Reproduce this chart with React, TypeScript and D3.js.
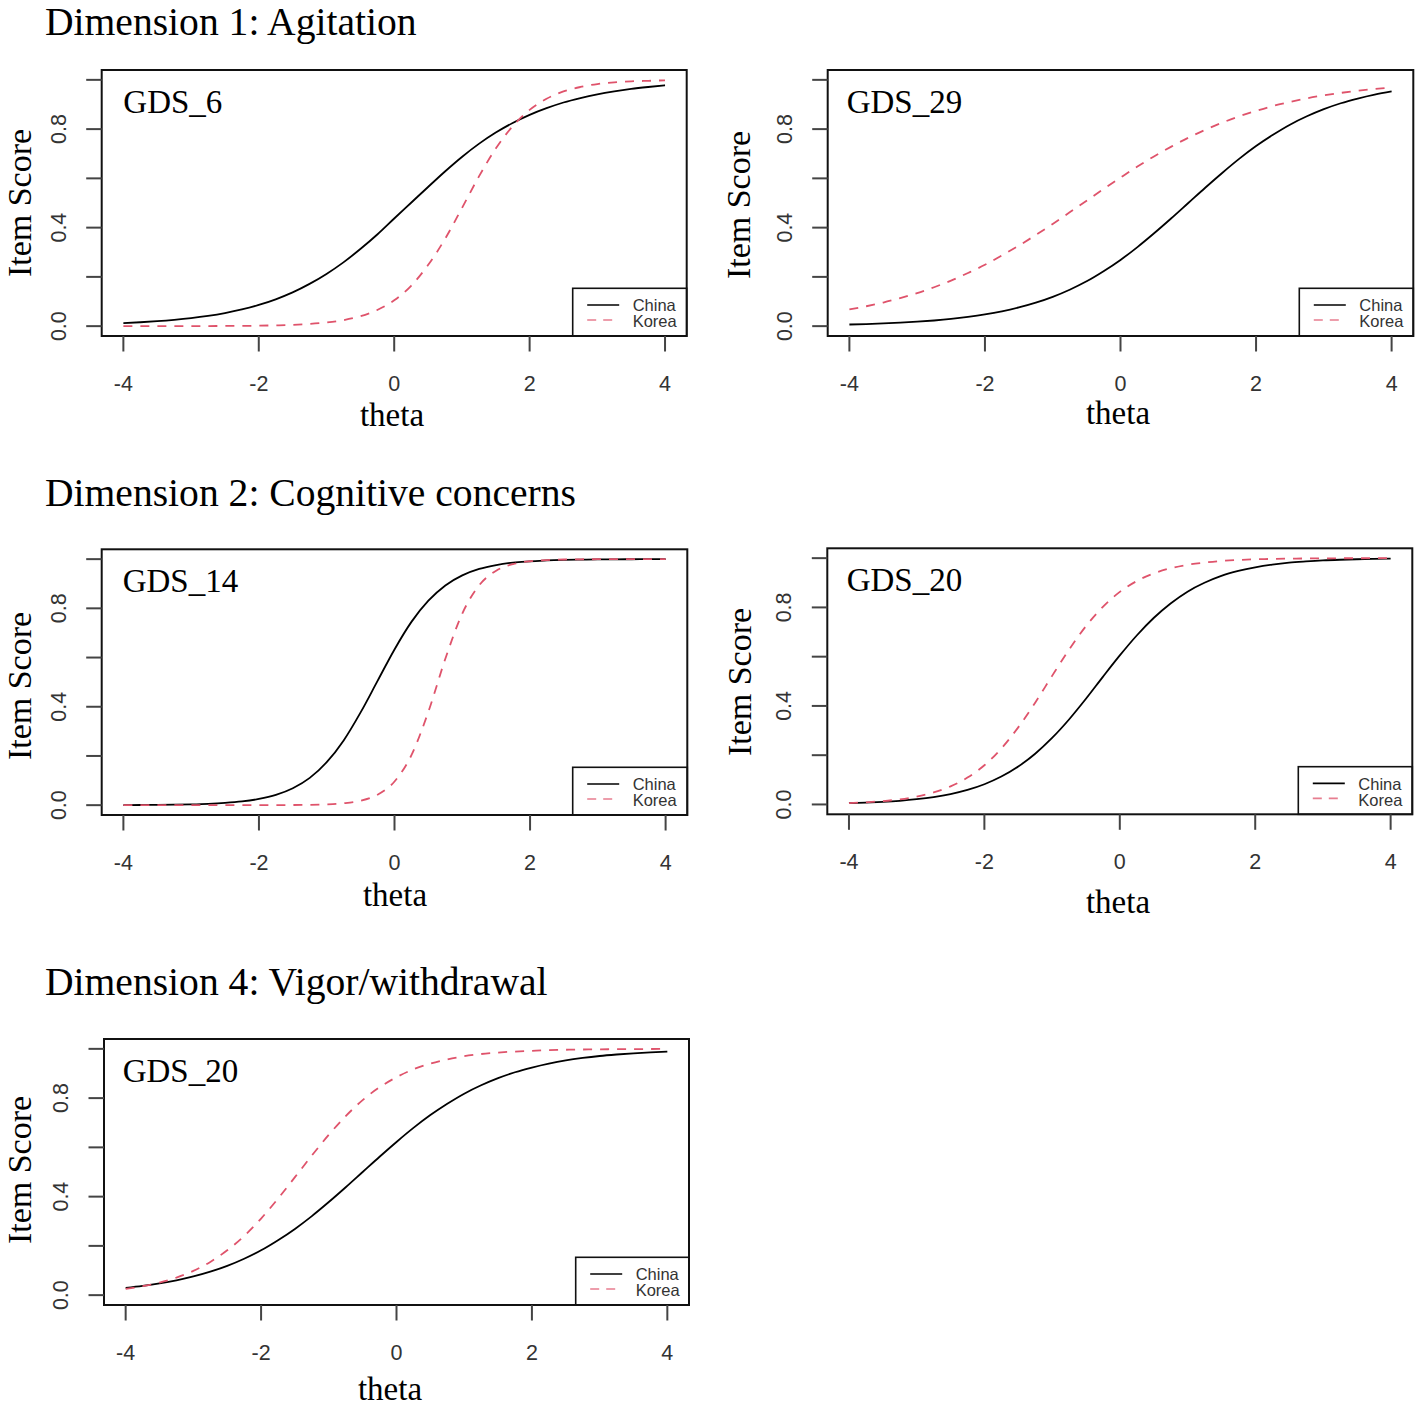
import React from 'react';
import * as d3 from 'd3';

// ---- data ----
const THETA = [-4, -3.75, -3.5, -3.25, -3, -2.75, -2.5, -2.25, -2, -1.75, -1.5, -1.25, -1, -0.75, -0.5, -0.25, 0,
  0.25, 0.5, 0.75, 1, 1.25, 1.5, 1.75, 2, 2.25, 2.5, 2.75, 3, 3.25, 3.5, 3.75, 4];

const GDS6_CHINA = [0.0125, 0.0158, 0.0200, 0.0255, 0.0325, 0.0415, 0.0530, 0.0676, 0.086, 0.109, 0.137, 0.1715, 0.212,
  0.259, 0.313, 0.372, 0.437, 0.501, 0.565, 0.628, 0.687, 0.740, 0.786, 0.825, 0.858, 0.885, 0.908, 0.926, 0.941,
  0.953, 0.963, 0.971, 0.978];
const GDS6_KOREA = [0.0, 0.0001, 0.0001, 0.0001, 0.0002, 0.0004, 0.0007, 0.0011, 0.0019, 0.0032, 0.0053, 0.0088, 0.0148,
  0.0244, 0.040, 0.0654, 0.105, 0.164, 0.248, 0.354, 0.479, 0.607, 0.721, 0.812, 0.878, 0.923, 0.953, 0.971, 0.983,
  0.990, 0.994, 0.996, 0.998];

const GDS29_CHINA = [0.0067, 0.0086, 0.011, 0.0141, 0.018, 0.023, 0.0293, 0.0374, 0.0474, 0.060, 0.0759, 0.0953, 0.119,
  0.148, 0.182, 0.223, 0.269, 0.321, 0.378, 0.438, 0.5, 0.562, 0.622, 0.679, 0.731, 0.777, 0.818, 0.852, 0.881,
  0.905, 0.924, 0.940, 0.953];
const GDS29_KOREA = [0.0678, 0.0808, 0.096, 0.114, 0.134, 0.158, 0.185, 0.216, 0.249, 0.287, 0.327, 0.370, 0.415,
  0.462, 0.509, 0.557, 0.603, 0.648, 0.690, 0.729, 0.765, 0.797, 0.826, 0.852, 0.874, 0.894, 0.910, 0.925, 0.937,
  0.947, 0.956, 0.963, 0.969];

const GDS14_CHINA = [0.0004, 0.0007, 0.0011, 0.0019, 0.0032, 0.0053, 0.009, 0.0151, 0.0253, 0.0419, 0.0689, 0.111,
  0.1745, 0.263, 0.377, 0.505, 0.633, 0.745, 0.831, 0.893, 0.934, 0.960, 0.976, 0.986, 0.991, 0.995, 0.997, 0.998,
  0.999, 0.9993, 0.9996, 0.9998, 0.9999];
const GDS14_KOREA = [0.0, 0.0, 0.0, 0.0, 0.0, 0.0, 0.0, 0.0, 0.0001, 0.0002, 0.0006, 0.0013, 0.0032, 0.0077, 0.018,
  0.0425, 0.0962, 0.2034, 0.380, 0.595, 0.779, 0.894, 0.953, 0.980, 0.9915, 0.9964, 0.9985, 0.9994, 0.9997, 0.9999,
  1.0, 1.0, 1.0];

const GDS20A_CHINA = [0.0052, 0.0074, 0.0105, 0.0149, 0.0212, 0.0299, 0.0422, 0.059, 0.0821, 0.1132, 0.154, 0.206,
  0.270, 0.345, 0.429, 0.518, 0.605, 0.686, 0.757, 0.816, 0.864, 0.900, 0.928, 0.948, 0.963, 0.974, 0.982, 0.987,
  0.991, 0.9936, 0.9955, 0.9968, 0.9978];
const GDS20A_KOREA = [0.0057, 0.0088, 0.0136, 0.0208, 0.0319, 0.0486, 0.0733, 0.109, 0.159, 0.227, 0.313, 0.413,
  0.522, 0.628, 0.724, 0.802, 0.863, 0.907, 0.938, 0.959, 0.973, 0.982, 0.9886, 0.9926, 0.9952, 0.9969, 0.998,
  0.9987, 0.9992, 0.9995, 0.9996, 0.9998, 0.9998];

const GDS20B_CHINA = [0.0293, 0.0374, 0.0474, 0.060, 0.0759, 0.0953, 0.119, 0.148, 0.182, 0.223, 0.269, 0.321, 0.378,
  0.438, 0.5, 0.562, 0.622, 0.679, 0.731, 0.777, 0.818, 0.852, 0.881, 0.905, 0.924, 0.940, 0.953, 0.963, 0.971,
  0.977, 0.982, 0.986, 0.989];
const GDS20B_KOREA = [0.0257, 0.0363, 0.0509, 0.0711, 0.0984, 0.135, 0.182, 0.240, 0.311, 0.392, 0.479, 0.567, 0.651,
  0.727, 0.792, 0.844, 0.885, 0.917, 0.940, 0.957, 0.970, 0.979, 0.985, 0.989, 0.992, 0.9947, 0.9963, 0.9974,
  0.9982, 0.9987, 0.9991, 0.9994, 0.9996];

const SERIES_NAMES = ['China', 'Korea'];
const SERIES_COLORS = ['#000000', '#DF536B'];
const X_TICKS = [-4, -2, 0, 2, 4];
const Y_TICKS = [0, 0.2, 0.4, 0.6, 0.8, 1.0];
const Y_TICK_LABELS = ['0.0', '', '0.4', '', '0.8', ''];
const HEADINGS = ['Dimension 1: Agitation', 'Dimension 2: Cognitive concerns', 'Dimension 4: Vigor/withdrawal'];
const ITEM_LABELS = ['GDS_6', 'GDS_29', 'GDS_14', 'GDS_20', 'GDS_20'];
const X_TITLE = 'theta';
const Y_TITLE = 'Item Score';

// ---- layout ----
const HEADING_POS = [
  { x: 45, y: 35 },
  { x: 45, y: 506 },
  { x: 45, y: 995 },
];

const PANELS = [
  { label: 0, series: [GDS6_CHINA, GDS6_KOREA], l: 101.7, r: 686.7, t: 70, b: 336, legL: 572.7, legT: 288.3, labX: 123.3, xlabX: 392, xlabY: 426, ylabX: 31, ylabY: 203 },
  { label: 1, series: [GDS29_CHINA, GDS29_KOREA], l: 827.7, r: 1413.3, t: 70, b: 336, legL: 1299.3, legT: 288.3, labX: 846.7, xlabX: 1118, xlabY: 424, ylabX: 750, ylabY: 205 },
  { label: 2, series: [GDS14_CHINA, GDS14_KOREA], l: 101.7, r: 687.3, t: 549.3, b: 815, legL: 572.7, legT: 767.3, labX: 122.7, xlabX: 395, xlabY: 906, ylabX: 31, ylabY: 686 },
  { label: 3, series: [GDS20A_CHINA, GDS20A_KOREA], l: 827.3, r: 1412.3, t: 548.3, b: 814.3, legL: 1298.3, legT: 766.7, labX: 846.7, xlabX: 1118, xlabY: 913, ylabX: 750.5, ylabY: 682 },
  { label: 4, series: [GDS20B_CHINA, GDS20B_KOREA], l: 104, r: 689, t: 1039, b: 1305, legL: 575.7, legT: 1257.3, labX: 122.7, xlabX: 390, xlabY: 1399.5, ylabX: 31, ylabY: 1170 },
];

const SERIF = '"Liberation Serif", "Times New Roman", serif';
const SANS = '"Liberation Sans", Arial, sans-serif';

function Panel({ p }: { p: any }) {
  const x = d3.scaleLinear().domain([-4.32, 4.32]).range([p.l, p.r]);
  const y = d3.scaleLinear().domain([-0.04, 1.04]).range([p.b, p.t]);
  const line = d3
    .line<number>()
    .x((_d, i) => x(THETA[i]))
    .y((d) => y(d))
    .curve(d3.curveMonotoneX);
  const tickLen = 15.5;
  return (
    <g>
      {/* curves */}
      {p.series.map((s: number[], i: number) => (
        <path
          key={i}
          d={line(s) || ''}
          fill="none"
          stroke={SERIES_COLORS[i]}
          strokeWidth={1.8}
          strokeDasharray={i === 1 ? '9,8' : undefined}
        />
      ))}
      {/* legend */}
      <rect x={p.legL} y={p.legT} width={p.r - p.legL} height={p.b - p.legT} fill="#fff" stroke="#111" strokeWidth={1.6} />
      {SERIES_NAMES.map((n, i) => (
        <g key={n}>
          <line
            x1={p.legL + 14.5}
            x2={p.legL + 46.5}
            y1={p.legT + 16.7 + i * 15}
            y2={p.legT + 16.7 + i * 15}
            stroke={SERIES_COLORS[i]}
            strokeWidth={1.6}
            strokeDasharray={i === 1 ? '9,7' : undefined}
            opacity={i === 1 ? 0.75 : 1}
          />
          <text x={p.legL + 60} y={p.legT + 23 + i * 16} fontFamily={SANS} fontSize={16.5} fill="#333">
            {n}
          </text>
        </g>
      ))}
      {/* box */}
      <rect x={p.l} y={p.t} width={p.r - p.l} height={p.b - p.t} fill="none" stroke="#111" strokeWidth={2} />
      {/* x axis */}
      {X_TICKS.map((t) => (
        <g key={'x' + t}>
          <line x1={x(t)} x2={x(t)} y1={p.b} y2={p.b + tickLen} stroke="#444" strokeWidth={2} />
          <text x={x(t)} y={p.b + 55} textAnchor="middle" fontFamily={SANS} fontSize={21.5} fill="#333">
            {t}
          </text>
        </g>
      ))}
      {/* y axis */}
      {Y_TICKS.map((t, i) => (
        <g key={'y' + t}>
          <line x1={p.l - tickLen} x2={p.l} y1={y(t)} y2={y(t)} stroke="#444" strokeWidth={2} />
          {Y_TICK_LABELS[i] && (
            <text
              transform={`translate(${p.l - 36},${y(t)}) rotate(-90)`}
              textAnchor="middle"
              fontFamily={SANS}
              fontSize={21.5}
              fill="#333"
            >
              {Y_TICK_LABELS[i]}
            </text>
          )}
        </g>
      ))}
      {/* titles */}
      <text x={p.labX} y={p.t + 43} fontFamily={SERIF} fontSize={33} fill="#000">
        {ITEM_LABELS[p.label]}
      </text>
      <text x={p.xlabX} y={p.xlabY} textAnchor="middle" fontFamily={SERIF} fontSize={33} fill="#000">
        {X_TITLE}
      </text>
      <text
        transform={`translate(${p.ylabX},${p.ylabY}) rotate(-90)`}
        textAnchor="middle"
        fontFamily={SERIF}
        fontSize={34}
        fill="#000"
      >
        {Y_TITLE}
      </text>
    </g>
  );
}

export default function App() {
  return (
    <svg
      width={1418}
      height={1405}
      viewBox="0 0 1418 1405"
      style={{ position: 'absolute', left: 0, top: 0, background: '#fff' }}
    >
      <rect width={1418} height={1405} fill="#fff" />
      {HEADINGS.map((h, i) => (
        <text key={h} x={HEADING_POS[i].x} y={HEADING_POS[i].y} fontFamily={SERIF} fontSize={39.6} fill="#000">
          {h}
        </text>
      ))}
      {PANELS.map((p, i) => (
        <Panel key={i} p={p} />
      ))}
    </svg>
  );
}
